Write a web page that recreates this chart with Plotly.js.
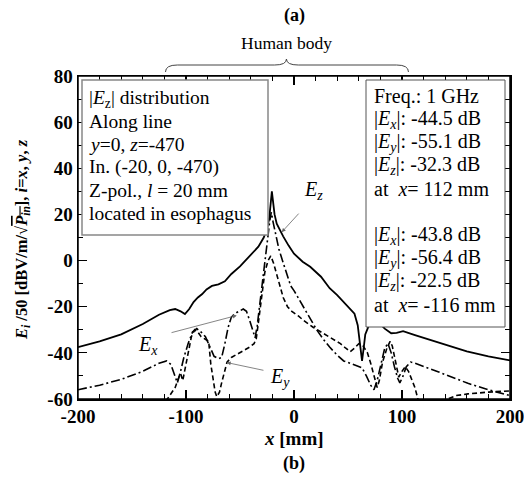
<!DOCTYPE html>
<html>
<head>
<meta charset="utf-8">
<script src="https://cdn.plot.ly/plotly-3.0.1.min.js"></script>
<style>html,body{margin:0;padding:0;background:#fff;overflow:hidden;}#chart{width:524px;height:481px;}</style>
</head>
<body>
<div id="chart"></div>
<script>
// E_z (solid)
const ezX = [-200,-180,-160,-140,-125,-115,-110,-105,-101,-97,-93,-89,-85,-81,-76,-70,-64,-58,-50,-40,-33,-28,-25,-23,-21.5,-20.5,-19.5,-18,-16,-13,-10,-5,0,8,15,25,33,40,49,56,59,61,63,64.5,66,69,73,77,80,84,90,95,101,112,130,160,180,200];
const ezY = [-37.5,-35,-32,-27.5,-23.5,-21.5,-21,-22,-23.2,-21,-18,-16,-14.5,-12.5,-11,-10.3,-9,-5.8,-2.5,2.5,6,10,14,18,24,30,26,20,16,13,10.5,6.5,3,-0.5,-2.7,-7,-12,-15,-19.3,-23,-28,-35,-43.5,-38,-32,-28.5,-26.5,-26.5,-27.5,-29.5,-31.5,-31.3,-30.6,-32.3,-35,-39.4,-41.5,-43.3];

// E_x (dash-dot)
const exX = [-200,-180,-160,-140,-125,-118,-114,-111,-108,-105,-102,-98,-94,-90,-86,-82,-78,-74,-70,-67,-64,-61,-58,-53,-47,-44,-41,-38,-36,-34,-31,-28,-26,-24,-22.5,-21,-19.5,-17,-14,-10,-6,-3,0,8.6,15,21,27,33,40,46,52,58,63,67,71,74,77,80,84,87,90,93,96,98,101,104,108,112,120,134,161,180,200];
const exY = [-56,-54,-51.5,-48,-44.5,-43.5,-45,-49,-53,-48,-42,-36,-31,-29.5,-31,-33,-37,-41.5,-42.5,-42,-36,-29,-24.5,-22.5,-21,-22,-26,-31,-33.5,-28,-17,-6,2,11,17,21,17,11,5,-1,-7,-11,-13,-20,-25,-30,-34,-37.5,-41,-43.5,-44.5,-45.5,-46.5,-50,-54,-56,-52,-46,-38,-36,-40,-46,-51,-53,-50,-46,-44,-44.5,-46,-48.3,-53.2,-56,-58.5];

// E_y (dashed)
const eyX = [-135,-122,-118,-114,-110,-107,-105,-103,-101,-98,-95,-92,-89,-86,-82,-79,-77,-75,-73,-71.5,-69,-67,-64,-62,-58,-52,-46,-41,-37,-35,-33,-30,-27,-24,-21.5,-19,-16,-13,-10,-6,-2,4,9,18,27,36,43,48,52,56,60,64,68,71,74,77,79,82,86,89,91,94,97,100,103,106,109,112,115,120,130,140,150,161,180,200];
const eyY = [-68,-63,-60.5,-57.5,-55,-51,-49,-52,-47,-40,-33,-30,-31,-33,-34,-35,-45,-52,-57,-59,-57,-53,-47,-44,-42,-40.5,-39,-37.5,-36,-34,-27,-15,-5,0,2,-1,-6,-11,-16,-20,-22,-24,-26,-29,-31.6,-34,-36,-38,-39.5,-38,-36,-37,-40,-44.5,-50,-55,-52,-44,-38,-35,-37,-44,-50.5,-48,-46,-48,-52,-55.1,-60.5,-64,-64,-60.5,-58.5,-57.8,-57,-56.5];

const xTickVals = [-200,-100,0,100,200];
const xTickText = ['-200','-100','0','100','200'];
const yTickVals = [-60,-40,-20,0,20,40,60,80];
const yTickText = ['-60','-40','-20','0','20','40','60','80'];

const leftBoxLines = ['|<i>E</i><sub>z</sub>| distribution','Along line','<i>y</i>=0, <i>z</i>=-470','In. (-20, 0, -470)','Z-pol., <i>l</i> = 20 mm','located in esophagus'];
const rightBoxLines = ['Freq.: 1 GHz','|<i>E<sub>x</sub></i>|: -44.5 dB','|<i>E<sub>y</sub></i>|: -55.1 dB','|<i>E<sub>z</sub></i>|: -32.3 dB','at  <i>x</i>= 112 mm','','|<i>E<sub>x</sub></i>|: -43.8 dB','|<i>E<sub>y</sub></i>|: -56.4 dB','|<i>E<sub>z</sub></i>|: -22.5 dB','at  <i>x</i>= -116 mm'];

const SERIF = 'Liberation Serif, Times New Roman, serif';

// page-pixel -> paper helpers (plot area: left 78, top 76, 432 x 323)
const M = {l:78, r:14, t:76, b:82};
const PW = 524 - M.l - M.r, PH = 481 - M.t - M.b;
const px = v => (v - M.l) / PW;
const py = v => (M.t + PH - v) / PH;

const traces = [
  {x: ezX, y: ezY, mode:'lines', line:{color:'#000', width:1.8}, name:'Ez'},
  {x: exX, y: exY, mode:'lines', line:{color:'#000', width:1.6, dash:'9px,3px,2px,3px'}, name:'Ex'},
  {x: eyX, y: eyY, mode:'lines', line:{color:'#000', width:1.6, dash:'5px,3px'}, name:'Ey'}
];

const axisCommon = {
  showline:true, linecolor:'#000', linewidth:1.5, mirror:'ticks',
  ticks:'inside', ticklen:9, tickwidth:1.2, tickcolor:'#000',
  showgrid:false, zeroline:false, tickmode:'array', ticklabeloverflow:'allow',
  tickfont:{family:SERIF, size:19, color:'#000', weight:'bold'}
};

const annotations = [
  {text:'<b>(a)</b>', xref:'paper', yref:'paper', x:0.5, y:py(15), xanchor:'center', yanchor:'middle', showarrow:false, font:{size:18, family:SERIF}},
  {text:'<b>(b)</b>', xref:'paper', yref:'paper', x:0.5, y:py(463), xanchor:'center', yanchor:'middle', showarrow:false, font:{size:18, family:SERIF}},
  {text:'Human body', xref:'x', yref:'paper', x:-7, y:py(43), xanchor:'center', yanchor:'middle', showarrow:false, font:{size:17.5, family:SERIF}},
  {text:'<b><i>x</i> [mm]</b>', xref:'paper', yref:'paper', x:0.5, y:py(438), xanchor:'center', yanchor:'middle', showarrow:false, font:{size:19, family:SERIF}},
  {text:'<b><i>E<sub>i</sub></i> /50 [dBV/m/√<span style="text-decoration:overline"><i>P<sub>in</sub></i></span>], <i>i</i>=<i>x</i>, <i>y</i>, <i>z</i></b>',
   xref:'paper', yref:'paper', x:px(22), y:py(240), xanchor:'center', yanchor:'middle', textangle:-90, showarrow:false, font:{size:16.5, family:SERIF}},
  {text:'<i>E<sub>z</sub></i>', xref:'x', yref:'y', x:17.6, y:30.5, xanchor:'center', yanchor:'middle', showarrow:false, font:{size:20, family:SERIF}},
  {text:'<i>E<sub>x</sub></i>', xref:'x', yref:'y', x:-135, y:-37, xanchor:'center', yanchor:'middle', showarrow:false, font:{size:20, family:SERIF}},
  {text:'<i>E<sub>y</sub></i>', xref:'x', yref:'y', x:-13, y:-50.7, xanchor:'center', yanchor:'middle', showarrow:false, font:{size:20, family:SERIF}},
  {text:'', xref:'x', yref:'y', x:-11.4, y:12.3, axref:'x', ayref:'y', ax:5.6, ay:21, showarrow:true, arrowhead:2, arrowsize:1, arrowwidth:0.8, arrowcolor:'#666', standoff:0},
  {text:'', xref:'x', yref:'y', x:-53, y:-23.8, axref:'x', ayref:'y', ax:-114.8, ay:-31.4, showarrow:true, arrowhead:2, arrowsize:1, arrowwidth:0.8, arrowcolor:'#666', standoff:0},
  {text:'', xref:'x', yref:'y', x:-62.3, y:-44.2, axref:'x', ayref:'y', ax:-26.9, ay:-47.7, showarrow:true, arrowhead:2, arrowsize:1, arrowwidth:0.8, arrowcolor:'#666', standoff:0}
];

leftBoxLines.forEach((t, i) => {
  annotations.push({text:t, xref:'paper', yref:'paper', x:px(87), y:py(99 + i * 22.8), xanchor:'left', yanchor:'middle',
    showarrow:false, font:{size:19.5, family:SERIF, color:'#000'}});
});
rightBoxLines.forEach((t, i) => {
  if (!t) return;
  annotations.push({text:t, xref:'paper', yref:'paper', x:px(372), y:py(96 + i * 23.2), xanchor:'left', yanchor:'middle',
    showarrow:false, font:{size:20, family:SERIF, color:'#000'}});
});

const layout = {
  width:524, height:481,
  margin:M,
  paper_bgcolor:'#fff', plot_bgcolor:'#fff',
  showlegend:false,
  font:{family:SERIF, color:'#000'},
  xaxis: Object.assign({}, axisCommon, {
    range:[-200,200], tickvals:xTickVals, ticktext:xTickText,
    minor:{tickmode:'linear', tick0:-200, dtick:20, ticks:'inside', ticklen:5, tickwidth:1, tickcolor:'#000'}
  }),
  yaxis: Object.assign({}, axisCommon, {
    range:[-60,80], tickvals:yTickVals, ticktext:yTickText,
    minor:{tickmode:'linear', tick0:-60, dtick:10, ticks:'inside', ticklen:5, tickwidth:1, tickcolor:'#000'}
  }),
  shapes: [
    {type:'path', xref:'x', yref:'paper',
     path:'M -119,' + py(72) + ' Q -119,' + py(65) + ' -108,' + py(65) + ' L -18,' + py(65) + ' Q -7,' + py(65) + ' -7,' + py(59) +
          ' Q -7,' + py(65) + ' 4,' + py(65) + ' L 95,' + py(65) + ' Q 106,' + py(65) + ' 106,' + py(72),
     line:{color:'#444', width:1}},
    {type:'rect', xref:'paper', yref:'paper', x0:px(82), x1:px(268), y0:py(80), y1:py(235),
     line:{color:'#888', width:1.5}, fillcolor:'#fff', layer:'above'},
    {type:'rect', xref:'paper', yref:'paper', x0:px(366), x1:px(505), y0:py(80), y1:py(327),
     line:{color:'#555', width:1}, fillcolor:'#fff', layer:'above'},
    {type:'rect', xref:'paper', yref:'paper', x0:0, x1:1, y0:0, y1:1,
     line:{color:'#000', width:1.5}, fillcolor:'rgba(0,0,0,0)', layer:'above'}
  ],
  annotations: annotations
};

Plotly.newPlot('chart', traces, layout, {staticPlot:true, displayModeBar:false});
</script>
</body>
</html>
